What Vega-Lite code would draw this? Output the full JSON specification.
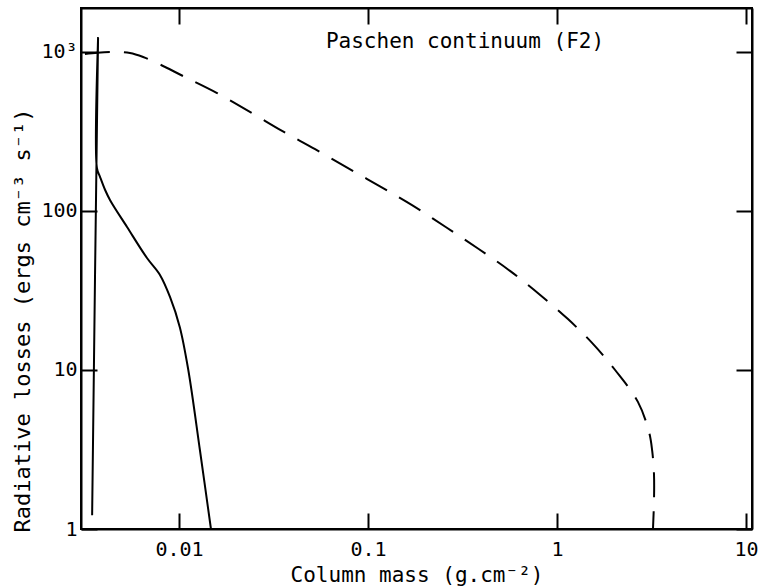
{
  "$schema": "https://vega.github.io/schema/vega-lite/v6.json",
  "autosize": "none",
  "width": 671,
  "height": 521,
  "padding": {"left": 81, "top": 8, "right": 9, "bottom": 59},
  "background": "white",
  "config": {
    "view": {"stroke": "black", "strokeWidth": 2},
    "axis": {
      "domainColor": "black", "domainWidth": 2, "tickColor": "black", "tickWidth": 2,
      "tickSize": -16, "grid": false
    }
  },
  "datasets": {
    "dashed": [
      {"i": 0, "x": 0.00318, "y": 971},
      {"i": 1, "x": 0.0037, "y": 990},
      {"i": 2, "x": 0.0045, "y": 1000},
      {"i": 3, "x": 0.0055, "y": 985},
      {"i": 4, "x": 0.00646, "y": 930},
      {"i": 5, "x": 0.00793, "y": 835},
      {"i": 6, "x": 0.0105, "y": 706},
      {"i": 7, "x": 0.0159, "y": 552},
      {"i": 8, "x": 0.0243, "y": 413},
      {"i": 9, "x": 0.0351, "y": 319},
      {"i": 10, "x": 0.0525, "y": 245},
      {"i": 11, "x": 0.0784, "y": 186},
      {"i": 12, "x": 0.1157, "y": 143},
      {"i": 13, "x": 0.171, "y": 109},
      {"i": 14, "x": 0.259, "y": 79},
      {"i": 15, "x": 0.387, "y": 57.5},
      {"i": 16, "x": 0.564, "y": 42},
      {"i": 17, "x": 0.803, "y": 30.1},
      {"i": 18, "x": 1.143, "y": 20.9},
      {"i": 19, "x": 1.55, "y": 14.6},
      {"i": 20, "x": 2.03, "y": 10},
      {"i": 21, "x": 2.68, "y": 6.3},
      {"i": 22, "x": 3.07, "y": 4.07},
      {"i": 23, "x": 3.19, "y": 3.1},
      {"i": 24, "x": 3.26, "y": 2.2},
      {"i": 25, "x": 3.26, "y": 1.5},
      {"i": 26, "x": 3.22, "y": 1.0}
    ],
    "solid": [
      {"i": 0, "x": 0.00347, "y": 1.22},
      {"i": 1, "x": 0.00373, "y": 1225},
      {"i": 2, "x": 0.00368, "y": 186},
      {"i": 3, "x": 0.00382, "y": 164},
      {"i": 4, "x": 0.00406, "y": 136},
      {"i": 5, "x": 0.00432, "y": 117},
      {"i": 6, "x": 0.00531, "y": 79.3},
      {"i": 7, "x": 0.00677, "y": 50.6},
      {"i": 8, "x": 0.00793, "y": 39.6},
      {"i": 9, "x": 0.00896, "y": 28.8},
      {"i": 10, "x": 0.0101, "y": 18.6},
      {"i": 11, "x": 0.0112, "y": 10},
      {"i": 12, "x": 0.0129, "y": 3.14},
      {"i": 13, "x": 0.01476, "y": 1.0}
    ],
    "label": [
      {"x": 0.326, "y": 1156, "text": "Paschen continuum (F2)"}
    ]
  },
  "resolve": {"axis": {"x": "independent", "y": "independent"}},
  "layer": [
    {
      "data": {"name": "dashed"},
      "mark": {"type": "line", "color": "black", "strokeWidth": 2, "strokeDash": [25, 14], "clip": false, "interpolate": "catmull-rom"},
      "encoding": {
        "x": {"field": "x", "type": "quantitative",
          "scale": {"type": "log", "domain": [0.00303, 10.76], "nice": false},
          "axis": {"orient": "bottom", "values": [0.01, 0.1, 1, 10], "format": "~g",
            "labelFont": "DejaVu Sans Mono", "labelFontSize": 20, "labelColor": "black",
            "labelPadding": 26, "title": "Column mass (g.cm⁻²)", "titleY": 46, "titleBaseline": "middle",
            "titleFont": "DejaVu Sans Mono", "titleFontSize": 21, "titleFontWeight": "normal", "titleColor": "black"}},
        "y": {"field": "y", "type": "quantitative",
          "scale": {"type": "log", "domain": [1, 1891], "nice": false},
          "axis": {"orient": "left", "values": [1, 10, 100, 1000], "format": "d",
            "labelExpr": "datum.value == 1000 ? '10³' : datum.label",
            "labelFont": "DejaVu Sans Mono", "labelFontSize": 20, "labelColor": "black",
            "labelPadding": 20, "title": "Radiative losses (ergs cm⁻³ s⁻¹)",
            "titleFont": "DejaVu Sans Mono", "titleFontSize": 22, "titleFontWeight": "normal", "titleColor": "black",
            "titleX": -59, "titleY": 312, "titleAngle": -90, "titleAlign": "center", "titleBaseline": "middle"}},
        "order": {"field": "i", "type": "quantitative"}
      }
    },
    {
      "data": {"name": "dashed"},
      "mark": {"type": "line", "strokeOpacity": 0, "clip": false},
      "encoding": {
        "x": {"field": "x", "type": "quantitative",
          "axis": {"orient": "top", "values": [0.01, 0.1, 1, 10], "labels": false, "title": null}},
        "y": {"field": "y", "type": "quantitative",
          "axis": {"orient": "right", "values": [1, 10, 100, 1000], "labels": false, "title": null}},
        "order": {"field": "i", "type": "quantitative"}
      }
    },
    {
      "data": {"name": "solid"},
      "mark": {"type": "line", "color": "black", "strokeWidth": 2, "clip": false, "interpolate": "catmull-rom"},
      "encoding": {
        "x": {"field": "x", "type": "quantitative", "axis": null},
        "y": {"field": "y", "type": "quantitative", "axis": null},
        "order": {"field": "i", "type": "quantitative"}
      }
    },
    {
      "data": {"name": "label"},
      "mark": {"type": "text", "font": "DejaVu Sans Mono", "fontSize": 21, "color": "black", "align": "center", "baseline": "middle"},
      "encoding": {
        "x": {"field": "x", "type": "quantitative", "axis": null},
        "y": {"field": "y", "type": "quantitative", "axis": null},
        "text": {"field": "text"}
      }
    }
  ]
}
